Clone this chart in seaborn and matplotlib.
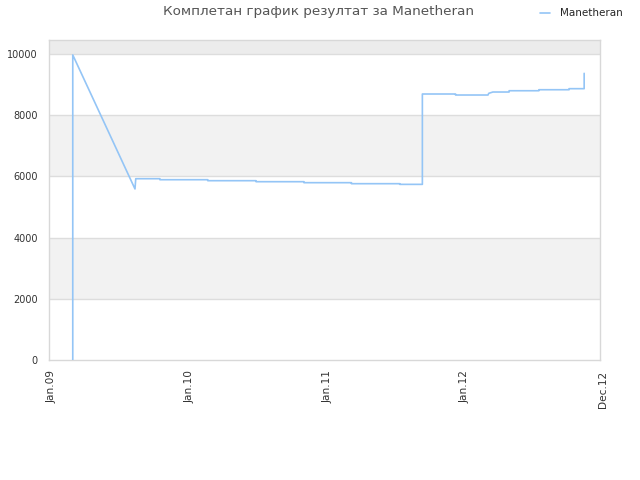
import pandas as pd
import matplotlib
import matplotlib.pyplot as plt
import matplotlib.transforms as mtransforms
import seaborn as sns

matplotlib.use('Agg')

# 数据
dates = ['2009-03-05', '2009-03-05', '2009-08-17', '2009-08-19', '2009-10-22', '2009-10-22',
         '2010-02-26', '2010-02-26', '2010-07-04', '2010-07-04', '2010-11-08', '2010-11-08',
         '2011-03-14', '2011-03-14', '2011-07-20', '2011-07-20', '2011-09-18', '2011-09-18',
         '2011-12-15', '2011-12-15', '2012-03-10', '2012-03-12', '2012-03-23', '2012-05-05',
         '2012-05-05', '2012-07-23', '2012-07-23', '2012-10-11', '2012-10-11', '2012-11-20',
         '2012-11-20']
scores = [0, 9970, 5590, 5925, 5925, 5892,
          5892, 5860, 5860, 5827, 5827, 5795,
          5795, 5762, 5762, 5740, 5740, 8693,
          8693, 8660, 8660, 8715, 8758, 8758,
          8800, 8800, 8833, 8833, 8867, 8867,
          9368]
player = 'Manetheran'
title = 'Комплетан график резултат за Manetheran'
tick_dates = ['2009-01-01', '2010-01-01', '2011-01-01', '2012-01-01', '2013-01-01']
tick_labels = ['Jan.09', 'Jan.10', 'Jan.11', 'Jan.12', 'Dec.12']
y_ticks = [0, 2000, 4000, 6000, 8000, 10000]

df = pd.DataFrame({'date': pd.to_datetime(dates), 'score': scores})

sns.set_style('white')
plt.rcParams['font.family'] = ['DejaVu Sans']

fig = plt.figure(figsize=(6.4, 4.8), dpi=100)
ax = fig.add_axes([49 / 640, 1 - 360 / 480, 551 / 640, 320 / 480])

ymax = 10458
# 背景条带
ax.axhspan(2000, 4000, color='#f2f2f2', zorder=0, lw=0)
ax.axhspan(6000, 8000, color='#f2f2f2', zorder=0, lw=0)
ax.axhspan(10000, ymax, color='#ececec', zorder=0, lw=0)
for y in y_ticks[1:]:
    ax.axhline(y, color='#dddddd', lw=1, zorder=1)

sns.lineplot(data=df, x='date', y='score', estimator=None, sort=False,
             color='#94c5f6', linewidth=1.2, label=player, ax=ax, zorder=3)

ax.set_xlim(pd.Timestamp('2009-01-01'), pd.Timestamp('2013-01-01'))
ax.set_ylim(0, ymax)
ax.set_yticks(y_ticks)
ax.set_yticklabels([str(v) for v in y_ticks])
ax.set_xticks(pd.to_datetime(tick_dates))
ax.set_xticklabels(tick_labels, rotation=90, va='top', ha='center')
ax.tick_params(axis='y', length=0, pad=8, labelsize=7, labelcolor='#333333')
ax.tick_params(axis='x', length=0, pad=7.5, labelsize=7.6, labelcolor='#333333')
offset = mtransforms.ScaledTranslation(3 / 100, 0, fig.dpi_scale_trans)
for lab in ax.get_xticklabels():
    lab.set_transform(lab.get_transform() + offset)
ax.set_xlabel('')
ax.set_ylabel('')
for s in ax.spines.values():
    s.set_color('#d8d8d8')
    s.set_linewidth(1)

ax.get_legend().remove()
fig.legend(loc='center right', bbox_to_anchor=(0.988, 0.972), frameon=False,
           fontsize=7.5, handlelength=0.9, handletextpad=1.0)

fig.text(0.497, 0.975, title, ha='center', va='center', fontsize=9.7, color='#555555')

plt.savefig('out.png', dpi=100)
plt.close()
